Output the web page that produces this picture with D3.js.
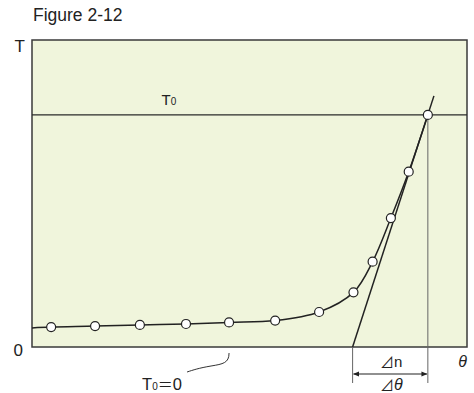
<!DOCTYPE html>
<html>
<head>
<meta charset="utf-8">
<script src="https://cdn.jsdelivr.net/npm/d3@7"></script>
<style>
  body { margin: 0; background: #fff; }
  text { font-family: "Liberation Sans", Arial, Helvetica, sans-serif; fill: #222; }
  .cjk { font-family: "Noto Sans CJK JP", sans-serif; }
</style>
</head>
<body>
<div id="chart"></div>
<script>
// measured points (theta, T)
const theta = [0.44, 1.45, 2.48, 3.54, 4.53, 5.59, 6.6, 7.39, 7.83, 8.25, 8.66, 9.1];
const temp  = [6.5, 6.8, 7.2, 7.5, 8.0, 8.6, 11.4, 17.8, 27.8, 42.0, 57.1, 75.6];
// curve starts at the left edge
const curveStart = [0, 6.2];
// tangent line at the last point
const tangentTheta = [7.37, 9.24];
const tangentT = [0, 81.8];
const T0 = 75.6;
const yTicks = ["0", "T"];

const width = 474, height = 393;
const margin = { top: 40, right: 7, bottom: 46, left: 32 };

const svg = d3.select("#chart").append("svg")
    .attr("width", width)
    .attr("height", height);

const x = d3.scaleLinear().domain([0, 10]).range([margin.left, width - margin.right]);
const y = d3.scaleLinear().domain([0, 100]).range([height - margin.bottom, margin.top]);

// plot area
svg.append("rect")
   .attr("x", x(0))
   .attr("y", y(100))
   .attr("width", x(10) - x(0))
   .attr("height", y(0) - y(100))
   .attr("fill", "#f0f5dc")
   .attr("stroke", "#3a3a3a")
   .attr("stroke-width", 1.5);

// title
svg.append("text")
   .attr("x", 33)
   .attr("y", 21)
   .style("font-size", "17.5px")
   .text("Figure 2-12");

// axis letters
svg.append("text").attr("x", x(0) - 7).attr("y", y(100) + 12)
   .attr("text-anchor", "end").style("font-size", "17px").text(yTicks[1]);
svg.append("text").attr("x", x(0) - 9).attr("y", y(0) + 9)
   .attr("text-anchor", "end").style("font-size", "17px").text(yTicks[0]);
svg.append("text").attr("x", x(10)).attr("y", y(0) + 20)
   .attr("text-anchor", "end").style("font-size", "16px").style("font-style", "italic")
   .text("θ");

// T0 line
svg.append("line")
   .attr("x1", x(0)).attr("x2", x(10))
   .attr("y1", y(T0)).attr("y2", y(T0))
   .attr("stroke", "#2a2a2a").attr("stroke-width", 1.1);

const t0Label = svg.append("text")
   .attr("x", x(3.0) - 1)
   .attr("y", y(T0) - 10)
   .style("font-size", "15px");
t0Label.append("tspan").text("T");
t0Label.append("tspan").style("font-size", "10px").text("0");

const lastX = theta[theta.length - 1];

// drop lines below the axis
svg.append("line")
   .attr("x1", x(lastX)).attr("x2", x(lastX))
   .attr("y1", y(T0)).attr("y2", y(0) + 36)
   .attr("stroke", "#666").attr("stroke-width", 1);
svg.append("line")
   .attr("x1", x(tangentTheta[0])).attr("x2", x(tangentTheta[0]))
   .attr("y1", y(0)).attr("y2", y(0) + 36)
   .attr("stroke", "#666").attr("stroke-width", 1);

// tangent
svg.append("line")
   .attr("x1", x(tangentTheta[0])).attr("y1", y(tangentT[0]))
   .attr("x2", x(tangentTheta[1])).attr("y2", y(tangentT[1]))
   .attr("stroke", "#222").attr("stroke-width", 1.5);

// curve
const pts = [curveStart].concat(theta.map((t, i) => [t, temp[i]]));
svg.append("path")
   .datum(pts)
   .attr("fill", "none")
   .attr("stroke", "#222")
   .attr("stroke-width", 1.5)
   .attr("d", d3.line().x(d => x(d[0])).y(d => y(d[1])).curve(d3.curveCatmullRom.alpha(0.5)));

svg.selectAll("circle.pt")
   .data(theta)
   .enter()
   .append("circle")
   .attr("class", "pt")
   .attr("cx", d => x(d))
   .attr("cy", (d, i) => y(temp[i]))
   .attr("r", 4.5)
   .attr("fill", "#fff")
   .attr("stroke", "#222")
   .attr("stroke-width", 1.2);

// arrow between drop lines
const defs = svg.append("defs");
defs.append("marker")
    .attr("id", "ah")
    .attr("viewBox", "0 0 10 10")
    .attr("refX", 9).attr("refY", 5)
    .attr("markerWidth", 10).attr("markerHeight", 6)
    .attr("orient", "auto-start-reverse")
    .attr("markerUnits", "userSpaceOnUse")
    .append("path")
    .attr("d", "M0,1 L10,5 L0,9 Z")
    .attr("fill", "#222");

const arrowY = y(0) + 27;
svg.append("line")
   .attr("x1", x(tangentTheta[0]) + 1).attr("x2", x(lastX) - 1)
   .attr("y1", arrowY).attr("y2", arrowY)
   .attr("stroke", "#222").attr("stroke-width", 1.2)
   .attr("marker-start", "url(#ah)")
   .attr("marker-end", "url(#ah)");

const midX = (x(tangentTheta[0]) + x(lastX)) / 2;
const dn = svg.append("text").attr("x", midX + 1).attr("y", arrowY - 7)
   .attr("text-anchor", "middle").style("font-size", "15px");
dn.append("tspan").attr("class", "cjk").style("font-size", "14px").text("⊿");
dn.append("tspan").text("n");
const dt = svg.append("text").attr("x", midX + 1).attr("y", arrowY + 16)
   .attr("text-anchor", "middle").style("font-size", "16px");
dt.append("tspan").attr("class", "cjk").style("font-size", "14px").text("⊿");
dt.append("tspan").style("font-style", "italic").text("θ");

// T0=0 callout
const cx = x(theta[4]);
svg.append("path")
   .attr("d", `M${cx},${y(0) + 6} C${cx},${y(0) + 16} ${cx - 6},${y(0) + 17} ${cx - 18},${y(0) + 19} S${cx - 36},${y(0) + 23} ${cx - 42},${y(0) + 25}`)
   .attr("fill", "none")
   .attr("stroke", "#333")
   .attr("stroke-width", 1);

const calLabel = svg.append("text")
   .attr("x", cx - 87)
   .attr("y", y(0) + 43)
   .style("font-size", "16.5px");
calLabel.append("tspan").text("T");
calLabel.append("tspan").style("font-size", "10px").text("0");
calLabel.append("tspan").attr("class", "cjk").style("font-size", "15px").text("＝");
calLabel.append("tspan").text("0");
</script>
</body>
</html>
